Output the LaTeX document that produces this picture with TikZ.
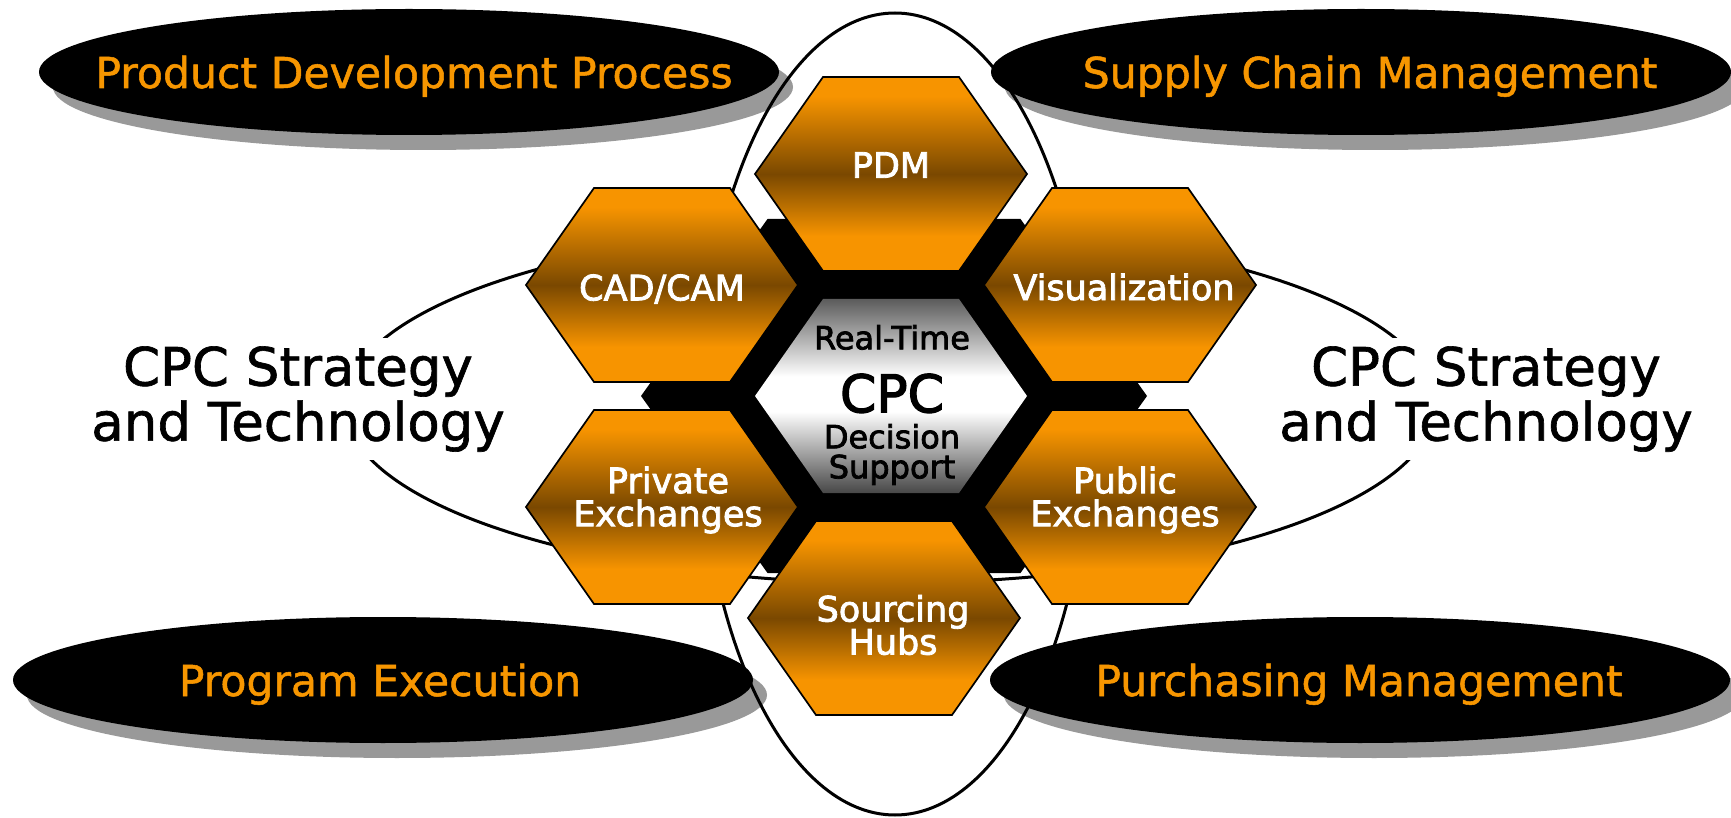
\documentclass[tikz,border=0pt]{standalone}
\usepackage{fontspec}
\setmainfont{DejaVu Sans}
\newfontfamily\heavyfont{DejaVu Sans}[FakeBold=2.4]
\newfontfamily\mediumfont{DejaVu Sans}[FakeBold=1.2]
\usetikzlibrary{positioning}

\definecolor{hexorange}{RGB}{247,148,0}
\definecolor{hexbrown}{RGB}{122,72,0}
\definecolor{topictext}{RGB}{247,150,0}

\pgfdeclareverticalshading{cellshade}{100bp}{color(0bp)=(hexorange); color(34bp)=(hexorange); color(50bp)=(hexbrown); color(70bp)=(hexorange); color(100bp)=(hexorange)}
\pgfdeclareverticalshading{coreshade}{100bp}{color(0bp)=(black!72); color(25bp)=(black!72); color(46bp)=(white); color(55bp)=(white); color(75bp)=(black!64); color(100bp)=(black!64)}

\newcommand{\hexagon}[2]{++(-#1,0) -- ++(#1/2,#2) -- ++(#1,0) -- ++(#1/2,-#2) -- ++(-#1/2,-#2) -- ++(-#1,0) -- cycle}
\setlength{\lineskiplimit}{-100pt}

\begin{document}
\begin{tikzpicture}[x=0.5pt, y=-0.5pt,
  topic/.style={text=topictext, anchor=base, font=\mediumfont\fontsize{21.3}{21.3}\selectfont},
  ring/.style={line width=1.5pt},
  cell/.style={draw, line width=0.85pt, shading=cellshade},
  celltext/.style={text=white, align=center, font=\heavyfont\fontsize{17.5}{16.5}\selectfont},
  coretext/.style={align=center, font=\heavyfont\fontsize{16}{15}\selectfont},
  theme/.style={fill=white, align=center, inner xsep=2pt, inner ysep=4pt, font=\mediumfont\fontsize{26.5}{27.5}\selectfont}]
  \useasboundingbox (0,0) rectangle (1731,818);

  \foreach \x/\y in {409/72, 1361/72, 383/680, 1360/680} {
    \fill[black!40] (\x+14,\y+15) ellipse [x radius=370, y radius=63];
    \fill (\x,\y) ellipse [x radius=370, y radius=63];
  }
  \node[topic] (pdp) at (414,88) {Product Development Process};
  \node[topic] (scm) at (1370,88) {Supply Chain Management};
  \node[topic] (pex) at (380,696) {Program Execution};
  \node[topic] (pur) at (1359,696) {Purchasing Management};

  \draw[ring] (895,414) ellipse [x radius=195, y radius=401];
  \draw[ring] (890,405) ellipse [x radius=545, y radius=178];
  \node[theme] (left) at (298,399) {CPC Strategy\\and Technology};
  \node[theme] (right) at (1486,399) {CPC Strategy\\and Technology};

  \coordinate (back) at (894,396);
  \coordinate (core) at (891,396);
  \coordinate (pdm) at (891,174);
  \coordinate (hubs) at (884,618);
  \coordinate (cadcam) at (662,285);
  \coordinate (priv) at (662,507);
  \coordinate (vis) at (1120,285);
  \coordinate (pub) at (1120,507);

  \fill (back) \hexagon{253}{177};
  \foreach \c in {pdm, hubs, cadcam, priv, vis, pub}
    \path[cell] (\c) \hexagon{136}{97};
  \path[shading=coreshade] (core) \hexagon{136}{97};

  \node[celltext] (pdmtext) at (891,165) {PDM};
  \node[celltext] (cadcamtext) at (662,289) {CAD/CAM};
  \node[celltext] (vistext) at (1124,287) {Visualization};
  \node[celltext] (privtext) at (668,500) {Private\\Exchanges};
  \node[celltext] (pubtext) at (1125,500) {Public\\Exchanges};
  \node[celltext] (hubstext) at (893,625) {Sourcing\\Hubs};
  \node[coretext] (coretext) at (892,405) {Real-Time\\[16.5pt]{\fontsize{26}{25}\selectfont CPC}\\[3pt]Decision\\Support};
\end{tikzpicture}
\end{document}
